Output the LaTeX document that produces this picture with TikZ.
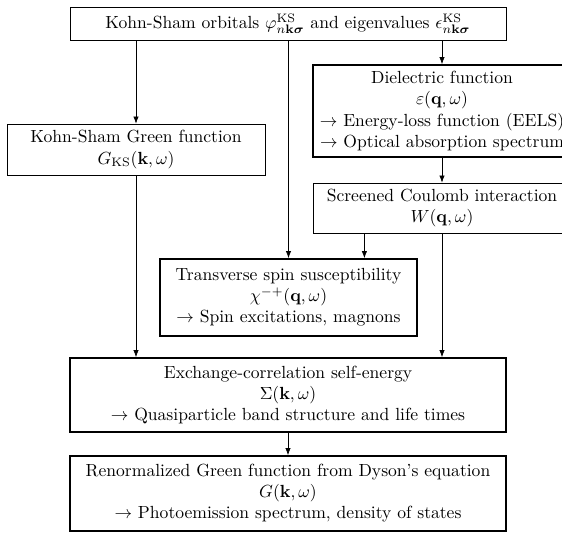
\documentclass[tikz,border=0pt]{standalone}
\usepackage{amsmath}
\usepackage{bm}
\usepackage{tikz}
\usetikzlibrary{arrows.meta,calc}

\begin{document}
\begin{tikzpicture}[
  x=0.02cm, y=0.02cm,
  box/.style={draw, thin, align=center, inner sep=0pt},
  boldbox/.style={box, line width=0.9pt},
  conn/.style={-{Latex[length=4pt,width=3pt]}, thin}
]
  \useasboundingbox (0,0) rectangle (562,-533);
  \node[box, minimum width=8.72cm, minimum height=0.66cm] (ks) at (288,-23.5)
    {Kohn-Sham orbitals $\varphi^{\mathrm{KS}}_{n\mathbf{k}\bm{\sigma}}$ and eigenvalues $\epsilon^{\mathrm{KS}}_{n\mathbf{k}\bm{\sigma}}$};
  \node[box, minimum width=5.16cm, minimum height=1.02cm] (green) at (136,-149.5)
    {Kohn-Sham Green function\\ $G_{\mathrm{KS}}(\mathbf{k},\omega)$};
  \node[boldbox, minimum width=5.16cm, minimum height=1.84cm] (diel) at (442,-111)
    {Dielectric function\\ $\varepsilon(\mathbf{q},\omega)$\\
     $\rightarrow$ Energy-loss function (EELS)\\ $\rightarrow$ Optical absorption spectrum};
  \node[box, minimum width=5.16cm, minimum height=1.0cm] (coul) at (442,-208)
    {Screened Coulomb interaction\\ $W(\mathbf{q},\omega)$};
  \node[boldbox, minimum width=5.14cm, minimum height=1.54cm] (spin) at (288.5,-297.5)
    {Transverse spin susceptibility\\ $\chi^{-+}(\mathbf{q},\omega)$\\ $\rightarrow$ Spin excitations, magnons};
  \node[boldbox, minimum width=8.72cm, minimum height=1.48cm] (xc) at (288,-395)
    {Exchange-correlation self-energy\\ $\Sigma(\mathbf{k},\omega)$\\
     $\rightarrow$ Quasiparticle band structure and life times};
  \node[boldbox, minimum width=8.72cm, minimum height=1.5cm] (dyson) at (288,-493.5)
    {Renormalized Green function from Dyson's equation\\ $G(\mathbf{k},\omega)$\\
     $\rightarrow$ Photoemission spectrum, density of states};
  % connectors
  \draw[conn] (ks.south -| green.north) -- (green.north);
  \draw[conn] (ks.south -| spin.north) -- (spin.north);
  \draw[conn] (ks.south -| diel.north) -- (diel.north);
  \draw[conn] (diel.south) -- (coul.north);
  \coordinate (c1) at ($(coul.south west)!0.2!(coul.south east)$);
  \draw[conn] (c1) -- (c1 |- spin.north);
  \draw[conn] (coul.south) -- (coul.south |- xc.north);
  \draw[conn] (green.south) -- (green.south |- xc.north);
  \draw[conn] (xc.south) -- (dyson.north);
\end{tikzpicture}
\end{document}
